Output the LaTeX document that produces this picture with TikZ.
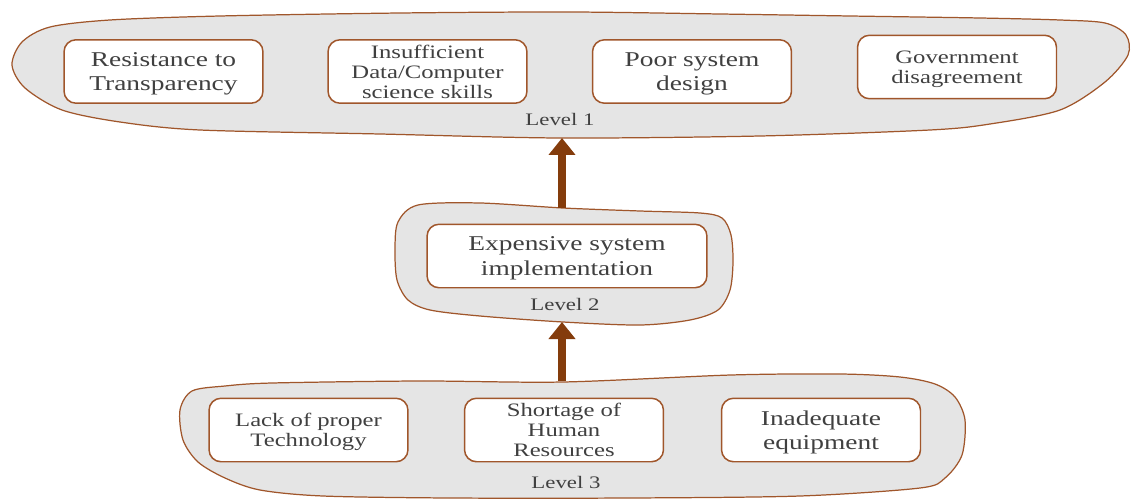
\documentclass[tikz,border=0pt]{standalone}
\usepackage{fontspec}
\setmainfont{Liberation Serif}[FakeStretch=1.3]
\usepackage{xcolor}
\usepackage{tikz}
\usetikzlibrary{arrows.meta}
\definecolor{ink}{HTML}{404040}
\definecolor{rim}{HTML}{A0562B}
\definecolor{cloudfill}{HTML}{E5E5E5}
\definecolor{arrowbrown}{HTML}{843C0C}
\tikzset{
  cloudline/.style={draw=rim, fill=cloudfill, line width=0.7pt},
  factor/.style={draw=rim, fill=white, line width=0.85pt, rounded corners=0.24cm,
    minimum width=3.98cm, minimum height=1.27cm, align=center, text=ink,
    inner sep=1pt, text depth=-2pt, font=\fontsize{12}{14}\selectfont},
  factorsm/.style={factor, text depth=0pt, font=\fontsize{10.8}{11.4}\selectfont},
  lvl/.style={text=ink, font=\fontsize{10}{12}\selectfont},
  liftarrow/.style={draw=arrowbrown, line width=5pt, -{Triangle[width=0.52cm,length=0.34cm]}},
}

\begin{document}
\begin{tikzpicture}[x=0.02cm, y=-0.02cm]
  \useasboundingbox (0,0) rectangle (1131,500);

  % level 1 cloud
  \draw[cloudline] plot[smooth cycle, tension=0.5] coordinates {
    (220,16) (400,13) (570,12) (720,14) (850,16) (980,18) (1060,20) (1105,23)
    (1126,35) (1128,55) (1105,82) (1060,110) (990,124) (930,130) (760,136)
    (560,138) (380,134) (200,130) (120,122) (62,110) (25,88) (12,65) (22,42)
    (50,27) (110,20)};
  % level 2 cloud
  \draw[cloudline] plot[smooth cycle, tension=0.5] coordinates {
    (418,205) (480,203) (563,208) (640,211) (700,213) (722,218) (731,235)
    (733,262) (730,290) (718,310) (690,320) (640,325) (563,322) (480,316)
    (430,310) (408,300) (397,280) (395,250) (398,222)};
  % level 3 cloud
  \draw[cloudline] plot[smooth cycle, tension=0.5] coordinates {
    (192,391) (225,386) (272,383) (420,381) (563,382) (731,375) (840,374)
    (900,377) (935,384) (955,397) (965,420) (962,455) (945,478) (920,488)
    (800,496) (629,498) (450,498) (323,496) (260,490) (225,478) (198,462)
    (183,440) (180,410)};

  \coordinate (c1bot) at (562,138);
  \coordinate (c2top) at (562,208);
  \coordinate (c2bot) at (562,322);
  \coordinate (c3top) at (562,381);

  \draw[liftarrow] (c2top) -- (c1bot);
  \draw[liftarrow] (c3top) -- (c2bot);

  % level 1
  \node[factor] (resist) at (163.5,71.5) {Resistance to\\Transparency};
  \node[factorsm] (skills) at (427.5,71.5) {Insufficient\\Data/Computer\\science skills};
  \node[factor] (design) at (692,71.5) {Poor system\\design};
  \node[factorsm] (govt) at (957,67) {Government\\disagreement};
  \node[lvl] (lvlone) at (560,119) {Level 1};

  % level 2
  \node[factor, minimum width=5.6cm] (cost) at (567,256) {Expensive system\\implementation};
  \node[lvl] (lvltwo) at (565,304) {Level 2};

  % level 3
  \node[factorsm] (tech) at (308.5,430) {Lack of proper\\Technology};
  \node[factorsm] (staff) at (564,430) {Shortage of\\Human\\Resources};
  \node[factor] (equip) at (821,430) {Inadequate\\equipment};
  \node[lvl] (lvlthree) at (566,482) {Level 3};
\end{tikzpicture}
\end{document}
